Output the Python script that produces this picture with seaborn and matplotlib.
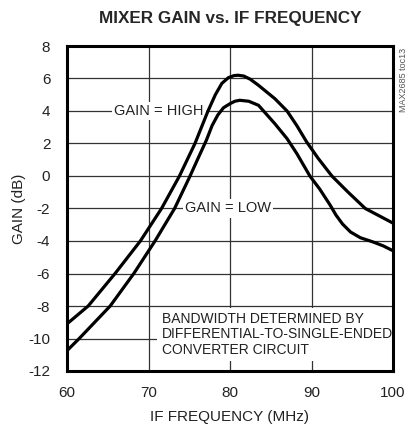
import matplotlib
matplotlib.use("Agg")
import matplotlib.pyplot as plt
import seaborn as sns
import pandas as pd

freq_high = [60, 62.6, 65.9, 69.0, 71.6, 73.8, 75.7, 77.3, 78.2, 79.0, 79.8, 80.5, 81.0,
             81.7, 82.5, 83.5, 85.5, 87.0, 88.2, 89.4, 90.8, 92.5, 94.5, 96.6, 98.3, 100]
gain_high = [-9.1, -8, -6, -4, -2, 0, 2, 4, 5.0, 5.7, 6.05, 6.18, 6.2,
             6.15, 5.95, 5.58, 4.76, 4.0, 3.1, 2.1, 1.1, 0, -1.0, -2, -2.45, -2.9]

freq_low = [60, 61.5, 65.3, 68.2, 70.8, 73.2, 75.1, 76.0, 77.1, 77.8, 78.5, 79.2, 80.0, 80.6, 81.2,
            82.3, 83.5, 85.5, 87.0, 88.2, 89.8, 91.0, 92.3, 93.0, 93.8, 94.8, 96.0, 97.5, 98.8, 100]
gain_low = [-10.75, -10, -8, -6, -4, -2, 0, 1.0, 2.2, 3.1, 3.75, 4.2, 4.45, 4.6, 4.66,
            4.6, 4.35, 3.22, 2.3, 1.38, 0, -0.8, -1.8, -2.4, -2.95, -3.45, -3.8, -4.05, -4.3, -4.6]

x_ticks = [60, 70, 80, 90, 100]
y_ticks = [8, 6, 4, 2, 0, -2, -4, -6, -8, -10, -12]

df = pd.concat([
    pd.DataFrame({"freq": freq_high, "gain": gain_high, "mode": "HIGH"}),
    pd.DataFrame({"freq": freq_low, "gain": gain_low, "mode": "LOW"}),
])

sns.set_style("white")
plt.rcParams["font.family"] = ["Liberation Sans", "DejaVu Sans"]

fig = plt.figure(figsize=(4.08, 4.30), dpi=100)
ax = fig.add_axes([67 / 408, 1 - 371 / 430, (393 - 67) / 408, (371 - 46) / 430])

sns.lineplot(data=df, x="freq", y="gain", units="mode", estimator=None,
             color="black", linewidth=2.3, ax=ax, legend=False, zorder=3)

ax.set_xlim(60, 100)
ax.set_ylim(-12, 8)
ax.set_xticks(x_ticks)
ax.set_yticks(y_ticks)
ax.set_xticklabels([str(t) for t in x_ticks])
ax.set_yticklabels([str(t) for t in y_ticks])
ax.grid(True, color="#333333", linewidth=0.9)
ax.set_axisbelow(True)
ax.tick_params(axis="both", length=0, labelsize=11, colors="#222222")
ax.tick_params(axis="y", pad=12)
ax.tick_params(axis="x", pad=11)
for s in ax.spines.values():
    s.set_visible(True)
    s.set_color("black")
    s.set_linewidth(2.2)

ax.set_xlabel("IF FREQUENCY (MHz)", fontsize=11, color="#222222", labelpad=7)
ax.set_ylabel("GAIN (dB)", fontsize=11, color="#222222", labelpad=2)
fig.suptitle("MIXER GAIN vs. IF FREQUENCY", fontsize=12.3, fontweight="bold",
             x=(67 + 393) / 2 / 408, y=1 - 19 / 430, va="center")

box = dict(facecolor="white", edgecolor="none", pad=1.5)
ax.text(71.3, 4, "GAIN = HIGH", ha="center", va="center", fontsize=10.5,
        color="#222222", bbox=box, zorder=2)
ax.text(79.8, -2, "GAIN = LOW", ha="center", va="center", fontsize=10.5,
        color="#222222", bbox=box, zorder=2)
ax.text(71.6, -9.75, "BANDWIDTH DETERMINED BY\nDIFFERENTIAL-TO-SINGLE-ENDED\nCONVERTER CIRCUIT",
        ha="left", va="center", fontsize=10, color="#222222", linespacing=1.15,
        bbox=dict(facecolor="white", edgecolor="none", pad=3), zorder=2)

fig.text(403 / 408, 1 - 80 / 430, "MAX2685 toc13", rotation=90, ha="center",
         va="center", fontsize=6.5, color="#555555")

fig.savefig("out.png", dpi=100)
